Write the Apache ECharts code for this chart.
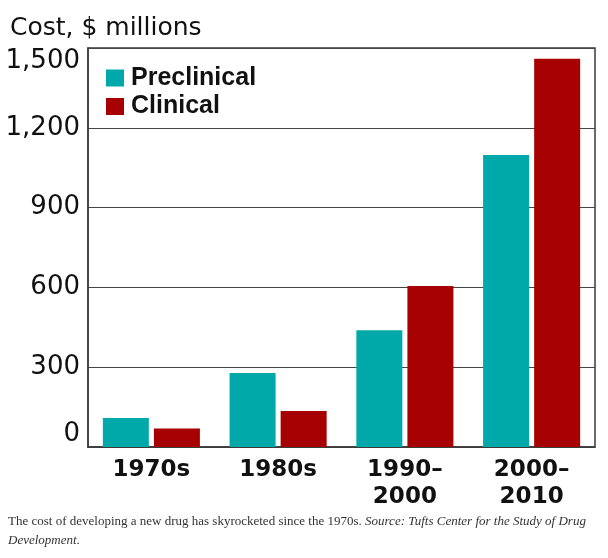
<!DOCTYPE html>
<html>
<head>
<meta charset="utf-8">
<title>Drug development cost</title>
<script src="https://cdn.jsdelivr.net/npm/echarts@6/dist/echarts.min.js"></script>
<style>
    html, body { margin: 0; padding: 0; background: #fff; }
    #main { width: 608px; height: 558px; }
</style>
</head>
<body>
<div id="main"></div>
<script>
// 数据：各年代新药研发成本（百万美元）
var categories = ['1970s', '1980s', '1990–\n2000', '2000–\n2010']
var preclinical = [109, 278, 439, 1098] // 临床前
var clinical = [70, 135, 605, 1460] // 临床
var seriesNames = ['Preclinical', 'Clinical']
var yTicks = [0, 300, 600, 900, 1200, 1500]
var captionMain = 'The cost of developing a new drug has skyrocketed since the 1970s. '
var captionSource = ['Source: Tufts Center for the Study of Drug', 'Development']

var myChart = echarts.init(document.getElementById('main'));

// 千分位
function fmt(v) {
    return String(v).replace(/\B(?=(\d{3})+(?!\d))/g, ',')
}

var option = {
    animation: false,
    backgroundColor: '#fff',
    title: {
        text: 'Cost, $ millions',
        left: 10,
        top: 16,
        padding: 0,
        textStyle: {
            fontFamily: 'DejaVu Sans',
            fontWeight: 'normal',
            fontSize: 25,
            color: '#111'
        }
    },
    legend: {
        orient: 'vertical',
        left: 106,
        top: 64,
        padding: 0,
        itemWidth: 18,
        itemHeight: 17,
        itemGap: 0.5,
        icon: 'rect',
        data: seriesNames,
        textStyle: {
            fontFamily: 'Liberation Sans',
            fontWeight: 'bold',
            fontSize: 25,
            lineHeight: 28,
            color: '#111',
            padding: [0, 0, 0, 2]
        }
    },
    grid: {
        left: 88,
        right: 13,
        top: 48,
        bottom: 111,
        show: true,
        borderColor: '#3a3a3a',
        borderWidth: 1.5
    },
    xAxis: {
        type: 'category',
        data: categories,
        axisLine: { lineStyle: { color: '#3a3a3a', width: 1.5 } },
        axisTick: { show: false },
        axisLabel: {
            margin: 10,
            fontFamily: 'DejaVu Sans',
            fontWeight: 'bold',
            fontSize: 23,
            lineHeight: 27,
            color: '#111'
        }
    },
    yAxis: {
        type: 'value',
        min: yTicks[0],
        max: yTicks[yTicks.length - 1],
        interval: 300,
        axisLine: { show: true, lineStyle: { color: '#3a3a3a', width: 1.5 } },
        axisTick: { show: false },
        splitLine: { lineStyle: { color: '#444', width: 1 } },
        axisLabel: {
            margin: 8,
            fontFamily: 'DejaVu Sans',
            fontSize: 26,
            color: '#111',
            // 首尾标签向内对齐
            verticalAlignMinLabel: 'bottom',
            verticalAlignMaxLabel: 'top',
            formatter: function (v) { return fmt(v) }
        }
    },
    series: [
        {
            name: seriesNames[0],
            type: 'bar',
            data: preclinical,
            barWidth: 46,
            barGap: '11%',
            itemStyle: { color: '#00a9a9' }
        },
        {
            name: seriesNames[1],
            type: 'bar',
            data: clinical,
            barWidth: 46,
            barGap: '11%',
            itemStyle: { color: '#a70000' }
        }
    ],
    // 图下说明文字
    graphic: [
        {
            type: 'text',
            left: 8,
            top: 512,
            style: {
                text: captionMain + '{i|' + captionSource[0] + '}\n{i|' + captionSource[1] + '}.',
                fontFamily: 'Liberation Serif',
                fontSize: 13,
                lineHeight: 19,
                fill: '#333',
                rich: {
                    i: {
                        fontFamily: 'Liberation Serif',
                        fontStyle: 'italic',
                        fontSize: 13,
                        lineHeight: 19,
                        color: '#333'
                    }
                }
            }
        }
    ]
};

myChart.setOption(option);
window.addEventListener('resize', () => {
    myChart.resize()
})
</script>
</body>
</html>
